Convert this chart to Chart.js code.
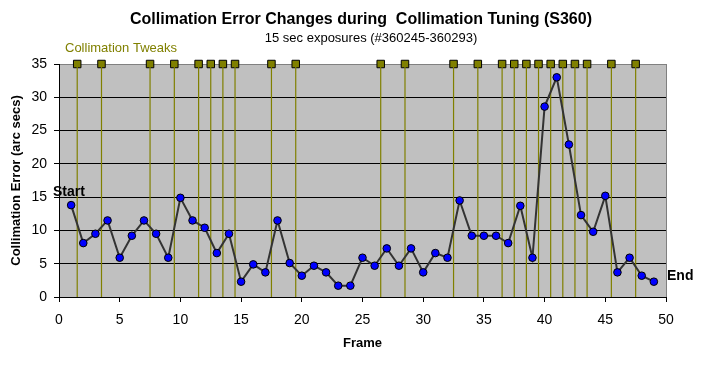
<!DOCTYPE html>
<html>
<head>
<meta charset="utf-8">
<script src="https://cdn.jsdelivr.net/npm/chart.js@4/dist/chart.umd.min.js"></script>
<style>
  html, body { margin: 0; padding: 0; background: #fff; }
  #wrap { width: 708px; height: 365px; position: relative; }
</style>
</head>
<body>
<div id="wrap"><canvas id="chart" width="708" height="365"></canvas></div>
<script>
// frame numbers and collimation error (arc secs)
const frames = [1, 2, 3, 4, 5, 6, 7, 8, 9, 10,
  11, 12, 13, 14, 15, 16, 17, 18, 19, 20,
  21, 22, 23, 24, 25, 26, 27, 28, 29, 30,
  31, 32, 33, 34, 35, 36, 37, 38, 39, 40,
  41, 42, 43, 44, 45, 46, 47, 48, 49];
const errorArcsec = [13.8, 8.1, 9.5, 11.5, 5.9, 9.2, 11.5, 9.5, 5.9, 14.9,
  11.5, 10.4, 6.6, 9.5, 2.3, 4.9, 3.7, 11.5, 5.1, 3.2,
  4.7, 3.7, 1.7, 1.7, 5.9, 4.7, 7.3, 4.7, 7.3, 3.7,
  6.6, 5.9, 14.5, 9.2, 9.2, 9.2, 8.1, 13.7, 5.9, 28.6,
  33.0, 22.9, 12.3, 9.8, 15.2, 3.7, 5.9, 3.2, 2.3];

// frames between which the collimation was tweaked
const tweakFrames = [1.5, 3.5, 7.5, 9.5, 11.5, 12.5, 13.5, 14.5, 17.5, 19.5,
  26.5, 28.5, 32.5, 34.5, 36.5, 37.5, 38.5, 39.5, 40.5, 41.5,
  42.5, 43.5, 45.5, 47.5];
const tweakLevel = 35;

const xTicks = [0, 5, 10, 15, 20, 25, 30, 35, 40, 45, 50];
const yTicks = [0, 5, 10, 15, 20, 25, 30, 35];

const OLIVE = '#808000';
const FONT = '"Liberation Sans", Arial, sans-serif';

// gray plot area plus gray right border
const plotBackground = {
  id: 'plotBackground',
  beforeDraw(chart) {
    const { ctx, chartArea: a } = chart;
    ctx.save();
    ctx.fillStyle = '#C0C0C0';
    ctx.fillRect(a.left, a.top, a.right - a.left, a.bottom - a.top);
    ctx.strokeStyle = '#808080';
    ctx.lineWidth = 1;
    ctx.beginPath();
    ctx.moveTo(a.right + 0.5, a.top);
    ctx.lineTo(a.right + 0.5, a.bottom);
    ctx.stroke();
    ctx.restore();
  }
};

// titles and the Start / End / tweak labels
const labelsPlugin = {
  id: 'labelsPlugin',
  afterDraw(chart) {
    const { ctx } = chart;
    ctx.save();
    ctx.textBaseline = 'middle';
    ctx.fillStyle = '#000';
    ctx.textAlign = 'center';
    ctx.font = 'bold 16px ' + FONT;
    ctx.fillText('Collimation Error Changes during  Collimation Tuning (S360)', 361, 20);
    ctx.font = '13px ' + FONT;
    ctx.fillText('15 sec exposures (#360245-360293)', 371, 38);

    ctx.textAlign = 'left';
    ctx.fillStyle = OLIVE;
    ctx.fillText('Collimation Tweaks', 65, 48);

    ctx.fillStyle = '#000';
    ctx.font = 'bold 14px ' + FONT;
    ctx.fillText('Start', 53, 192);
    ctx.fillText('End', 667, 276);
    ctx.restore();
  }
};

const tweakLines = tweakFrames.flatMap(f => [
  { x: f, y: tweakLevel }, { x: f, y: 0 }, { x: f, y: null }
]);
const tweakMarks = tweakFrames.map(f => ({ x: f, y: tweakLevel }));

new Chart(document.getElementById('chart'), {
  type: 'line',
  data: {
    datasets: [
      {
        label: 'Collimation Error',
        data: frames.map((f, i) => ({ x: f, y: errorArcsec[i] })),
        borderColor: '#333333',
        borderWidth: 2,
        pointRadius: 3.8,
        pointBackgroundColor: '#0000FF',
        pointBorderColor: '#000000',
        pointBorderWidth: 1,
        tension: 0,
        clip: false
      },
      {
        label: 'Tweak lines',
        data: tweakLines,
        borderColor: OLIVE,
        borderWidth: 1.2,
        pointRadius: 0,
        spanGaps: false,
        clip: false
      },
      {
        label: 'Collimation Tweaks',
        data: tweakMarks,
        showLine: false,
        pointStyle: 'rect',
        pointRadius: 5.3,
        pointBackgroundColor: OLIVE,
        pointBorderColor: '#000000',
        pointBorderWidth: 1,
        clip: false
      }
    ]
  },
  options: {
    responsive: false,
    animation: false,
    layout: { padding: { left: 0, top: 64, right: 42, bottom: 0 } },
    plugins: {
      legend: { display: false },
      tooltip: { enabled: false }
    },
    scales: {
      x: {
        type: 'linear',
        min: 0,
        max: 50,
        afterFit(scale) { scale.height = 68; },
        afterBuildTicks(scale) { scale.ticks = xTicks.map(v => ({ value: v })); },
        grid: { drawOnChartArea: false, drawTicks: true, tickLength: 5, tickColor: '#000' },
        border: { color: '#000', width: 1 },
        ticks: { color: '#000', padding: 10, font: { family: FONT, size: 14 }, maxRotation: 0 },
        title: {
          display: true,
          text: 'Frame',
          color: '#000',
          font: { family: FONT, size: 13, weight: 'bold' },
          padding: { top: 0, bottom: 14 }
        }
      },
      y: {
        min: 0,
        max: 35,
        afterFit(scale) { scale.width = 59; },
        afterBuildTicks(scale) { scale.ticks = yTicks.map(v => ({ value: v })); },
        grid: {
          color: c => (c.tick && c.tick.value === 35 ? '#808080' : '#000'),
          tickColor: '#000',
          tickLength: 5,
          lineWidth: 1
        },
        border: { color: '#000', width: 1 },
        ticks: { color: '#000', padding: 7, font: { family: FONT, size: 14 } },
        title: {
          display: true,
          text: 'Collimation Error (arc secs)',
          color: '#000',
          font: { family: FONT, size: 13, weight: 'bold' },
          padding: { top: 9, bottom: 0 }
        }
      }
    }
  },
  plugins: [plotBackground, labelsPlugin]
});
</script>
</body>
</html>
